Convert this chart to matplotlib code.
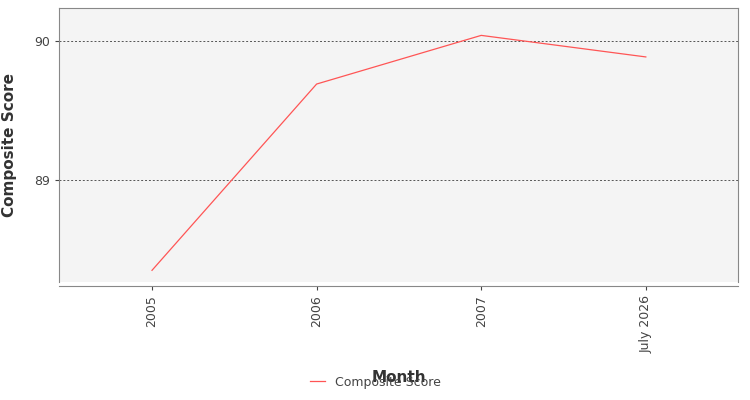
import matplotlib
matplotlib.use("Agg")
import matplotlib.pyplot as plt

categories = ["2005", "2006", "2007", "July 2026"]
values = [88.35, 89.69, 90.04, 89.885]

fig = plt.figure(figsize=(7.5, 4), dpi=100)
ax = fig.add_axes([59/750, 1-282/400, (738-59)/750, (282-8)/400])
ax.set_facecolor("#f4f4f4")
x = list(range(len(categories)))
ax.plot(x, values, color="#ff5555", lw=0.9, label="Composite Score")
ax.set_xlim(-0.565, 3.56)
ax.set_ylim(88.266, 90.237)
ax.set_yticks([89, 90])
ax.set_yticklabels(["89", "90"])
ax.set_xticks(x)
ax.set_xticklabels(categories)
ax.grid(axis="y", color="#555555", ls=(0, (2, 2)), lw=0.7)
for s in ax.spines.values():
    s.set_color("#888888")
ax.spines["bottom"].set_position(("outward", 3))
ax.tick_params(colors="#444444", labelsize=9, length=3)
plt.setp(ax.get_xticklabels(), rotation=90, ha="center", va="top")
ax.set_xlabel("Month", fontsize=11, color="#333333", labelpad=12, fontweight="semibold")
ax.set_ylabel("Composite Score", fontsize=11, color="#333333", labelpad=12, fontweight="semibold")
fig.legend(loc="lower center", bbox_to_anchor=(0.5, 0.0), frameon=False, fontsize=9,
           handlelength=1.2, labelcolor="#444444")
fig.savefig("out.png", dpi=100)
